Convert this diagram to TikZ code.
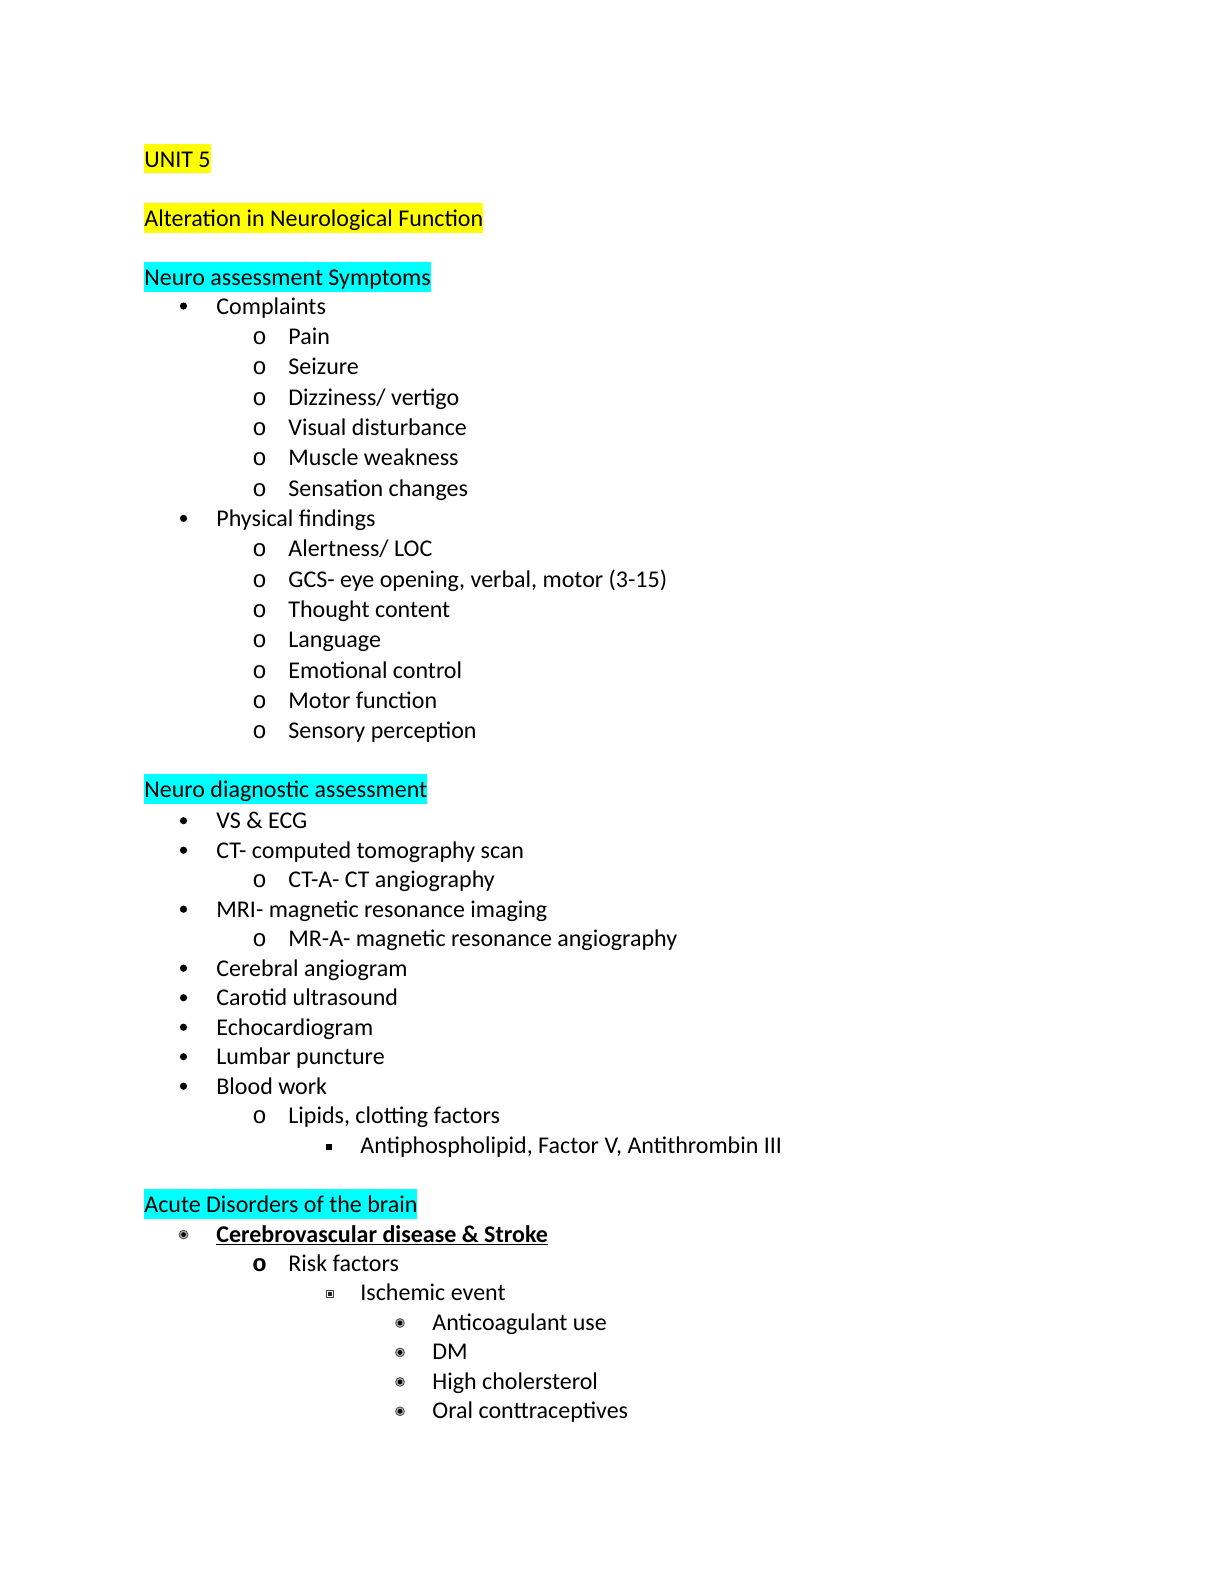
\documentclass[tikz,border=0pt]{standalone}
\usepackage{fontspec}
\setmainfont{Carlito}
\newfontfamily\markfont{Liberation Mono}
\usetikzlibrary{positioning}
\definecolor{hlyellow}{RGB}{255,255,0}
\definecolor{hlcyan}{RGB}{0,255,255}
\tikzset{
    heading/.style={
        anchor=base west,
        inner sep=0pt,
        text height=11.7bp,
        text depth=3bp,
        fill=#1
    },
    entry/.style={
        anchor=base west,
        inner sep=0pt
    },
    dotmark/.style={
        circle,
        fill=black,
        inner sep=0pt,
        minimum size=3.6bp
    },
    omark/.style={
        anchor=base west,
        inner sep=0pt,
        font=\markfont\fontsize{12.045}{14.7}\selectfont
    },
    squaremark/.style={
        rectangle,
        fill=black,
        inner sep=0pt,
        minimum size=3bp
    },
    ringmark/.style={
        circle,
        draw=black!70,
        fill=black!30,
        line width=0.4bp,
        inner sep=0pt,
        minimum size=4.4bp,
        path picture={\fill[black] (path picture bounding box.center) circle (1.2bp);}
    },
    boxmark/.style={
        rectangle,
        draw=black!75,
        fill=white,
        line width=0.4bp,
        inner sep=0pt,
        minimum size=3.6bp,
        path picture={\fill[black!85] ([shift={(-1.1bp,-1.1bp)}]path picture bounding box.center) rectangle ([shift={(1.1bp,1.1bp)}]path picture bounding box.center);}
    }
}

\begin{document}
\begin{tikzpicture}[x=0.5bp, y=-0.5bp, font=\fontsize{12.045}{14.7}\selectfont]
    \useasboundingbox (0,0) rectangle (1224,1584);

    \node[heading=hlyellow] (unit)   at (144,167)   {UNIT 5};
    \node[heading=hlyellow] (alter)  at (144,226.5) {Alteration in Neurological Function};
    \node[heading=hlcyan]   (sympt)  at (144,285.5) {Neuro assessment Symptoms};

    \node[dotmark] (m1)  at (183.5,306)   {};
    \node[entry]   (compl) at (216,314)   {Complaints};
    \node[omark]   (m2)  at (252,344.3)   {o};
    \node[entry]   (pain)  at (288,344.3) {Pain};
    \node[omark]   (m3)  at (252,374.7)   {o};
    \node[entry]   (seiz)  at (288,374.7) {Seizure};
    \node[omark]   (m4)  at (252,405)     {o};
    \node[entry]   (dizz)  at (288,405)   {Dizziness/ vertigo};
    \node[omark]   (m5)  at (252,435.4)   {o};
    \node[entry]   (visu)  at (288,435.4) {Visual disturbance};
    \node[omark]   (m6)  at (252,465.7)   {o};
    \node[entry]   (musc)  at (288,465.7) {Muscle weakness};
    \node[omark]   (m7)  at (252,496)     {o};
    \node[entry]   (sens)  at (288,496)   {Sensation changes};
    \node[dotmark] (m8)  at (183.5,518.4) {};
    \node[entry]   (phys)  at (216,526.4) {Physical findings};
    \node[omark]   (m9)  at (252,556.7)   {o};
    \node[entry]   (alert) at (288,556.7) {Alertness/ LOC};
    \node[omark]   (m10) at (252,587.1)   {o};
    \node[entry]   (gcs)   at (288,587.1) {GCS- eye opening, verbal, motor (3-15)};
    \node[omark]   (m11) at (252,617.4)   {o};
    \node[entry]   (thou)  at (288,617.4) {Thought content};
    \node[omark]   (m12) at (252,647.7)   {o};
    \node[entry]   (lang)  at (288,647.7) {Language};
    \node[omark]   (m13) at (252,678.1)   {o};
    \node[entry]   (emot)  at (288,678.1) {Emotional control};
    \node[omark]   (m14) at (252,708.4)   {o};
    \node[entry]   (motor) at (288,708.4) {Motor function};
    \node[omark]   (m15) at (252,738.8)   {o};
    \node[entry]   (senp)  at (288,738.8) {Sensory perception};

    \node[heading=hlcyan] (diag) at (144,797.5) {Neuro diagnostic assessment};

    \node[dotmark] (m16) at (183.5,820.7)  {};
    \node[entry]   (vs)    at (216,828.7)  {VS \& ECG};
    \node[dotmark] (m17) at (183.5,850.2)  {};
    \node[entry]   (ct)    at (216,858.2)  {CT- computed tomography scan};
    \node[omark]   (m18) at (252,887.7)    {o};
    \node[entry]   (cta)   at (288,887.7)  {CT-A- CT angiography};
    \node[dotmark] (m19) at (183.5,909.2)  {};
    \node[entry]   (mri)   at (216,917.2)  {MRI- magnetic resonance imaging};
    \node[omark]   (m20) at (252,946.7)    {o};
    \node[entry]   (mra)   at (288,946.7)  {MR-A- magnetic resonance angiography};
    \node[dotmark] (m21) at (183.5,968.2)  {};
    \node[entry]   (cereb) at (216,976.2)  {Cerebral angiogram};
    \node[dotmark] (m22) at (183.5,997.7)  {};
    \node[entry]   (carot) at (216,1005.7) {Carotid ultrasound};
    \node[dotmark] (m23) at (183.5,1027.2) {};
    \node[entry]   (echo)  at (216,1035.2) {Echocardiogram};
    \node[dotmark] (m24) at (183.5,1056.7) {};
    \node[entry]   (lumb)  at (216,1064.7) {Lumbar puncture};
    \node[dotmark] (m25) at (183.5,1086.2) {};
    \node[entry]   (blood) at (216,1094.2) {Blood work};
    \node[omark]   (m26) at (252,1123.7)   {o};
    \node[entry]   (lipid) at (288,1123.7) {Lipids, clotting factors};
    \node[squaremark] (m27) at (329,1146.7) {};
    \node[entry]   (anti)  at (360,1153.2) {Antiphospholipid, Factor V, Antithrombin III};

    \node[heading=hlcyan] (acute) at (144,1212.5) {Acute Disorders of the brain};

    \node[ringmark] (m28) at (183.5,1234.6) {};
    \node[entry]    (cvd)   at (216,1242)   {\bfseries Cerebrovascular disease \& Stroke};
    \node[omark, font=\markfont\bfseries\fontsize{12.045}{14.7}\selectfont] (m29) at (252,1271.4) {o};
    \node[entry]    (risk)  at (288,1271.4) {Risk factors};
    \node[boxmark]  (m30) at (330,1294.2)   {};
    \node[entry]    (isch)  at (360,1300.9) {Ischemic event};
    \node[ringmark] (m31) at (400,1323)     {};
    \node[entry]    (antic) at (432,1330.3) {Anticoagulant use};
    \node[ringmark] (m32) at (400,1352.4)   {};
    \node[entry]    (dm)    at (432,1359.7) {DM};
    \node[ringmark] (m33) at (400,1381.9)   {};
    \node[entry]    (chol)  at (432,1389.2) {High cholersterol};
    \node[ringmark] (m34) at (400,1411.3)   {};
    \node[entry]    (oral)  at (432,1418.6) {Oral conttraceptives};

    \draw[line width=0.65bp] ([yshift=-1.3bp]cvd.base west) -- ([yshift=-1.3bp]cvd.base east);
\end{tikzpicture}
\end{document}
